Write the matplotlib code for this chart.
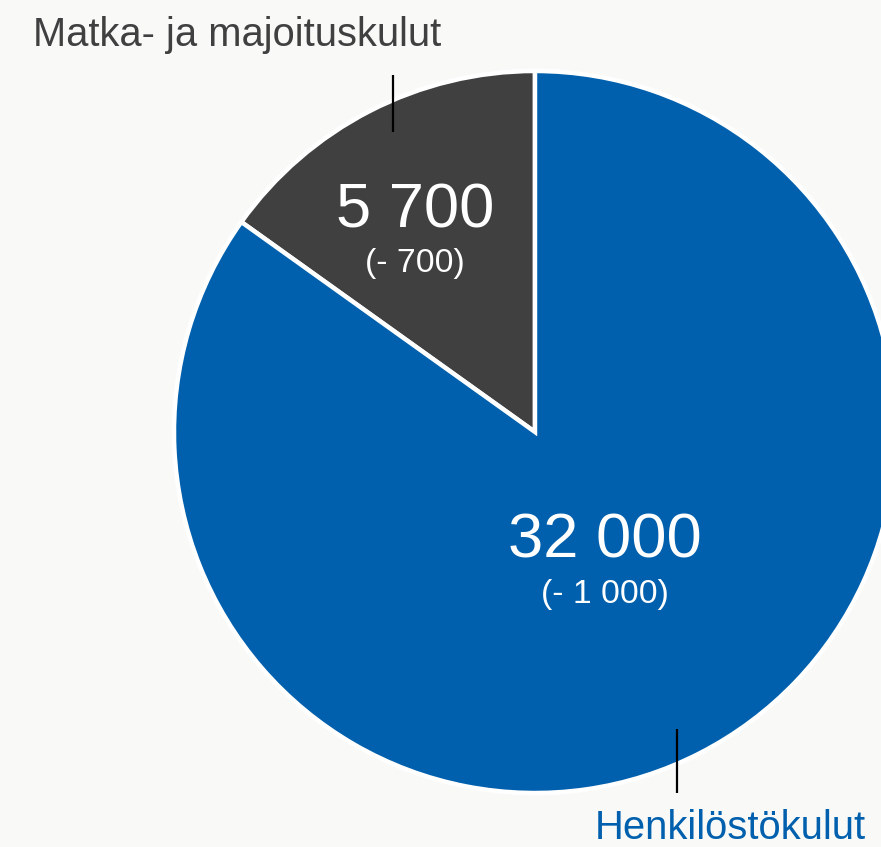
import matplotlib
matplotlib.use("Agg")
import matplotlib.pyplot as plt

categories = ["Henkilöstökulut", "Matka- ja majoituskulut"]
values = [32000, 5700]
changes = [-1000, -700]
colors = ["#0060ad", "#404040"]

W, H = 881, 847
BG = "#f9f9f8"

def fmt(v):
    return f"{abs(v):,}".replace(",", " ")

plt.rcParams['font.family'] = ['Liberation Sans', 'DejaVu Sans']

fig = plt.figure(figsize=(W / 100, H / 100), dpi=100, facecolor=BG)
ax = fig.add_axes([0, 0, 1, 1])
ax.set_facecolor(BG)

cx, cy, r = 535, H - 432, 361
# draw Matka first from top going counterclockwise, then Henkilöstö
order = [1, 0]
wedges, _ = ax.pie([values[i] for i in order], colors=[colors[i] for i in order],
                   startangle=90, counterclock=True, center=(cx, cy), radius=r,
                   frame=True,
                   wedgeprops=dict(edgecolor="white", linewidth=3.2))
ax.set_xlim(0, W)
ax.set_ylim(0, H)
ax.set_aspect('equal', adjustable='box')
ax.axis('off')

# Value labels
ax.text(415, H - 211, fmt(values[1]), color="white", fontsize=45.5, ha="center", va="center")
ax.text(415, H - 263, f"(- {fmt(changes[1])})", color="white", fontsize=24.3, ha="center", va="center")
ax.text(605, H - 541, fmt(values[0]), color="white", fontsize=45.5, ha="center", va="center")
ax.text(605, H - 594, f"(- {fmt(changes[0])})", color="white", fontsize=24.3, ha="center", va="center")

# Category labels with leader lines
ax.text(237, H - 35, categories[1], color="#404040", fontsize=28.7, ha="center", va="center")
ax.plot([393, 393], [H - 75, H - 132], color="black", lw=1.6, solid_capstyle="butt")
ax.text(730, H - 828, categories[0], color=colors[0], fontsize=28.8, ha="center", va="center")
ax.plot([677, 677], [H - 729, H - 793], color="black", lw=1.6, solid_capstyle="butt")

fig.savefig("out.png", dpi=100, facecolor=BG)
